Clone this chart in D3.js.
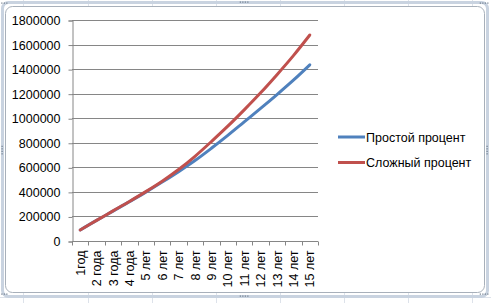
<!DOCTYPE html>
<html>
<head>
<meta charset="utf-8">
<script src="https://cdn.jsdelivr.net/npm/d3@7"></script>
<style>
  body { margin: 0; background: #fff; }
  text { font-family: "Liberation Sans", Arial, sans-serif; fill: #000; }
</style>
</head>
<body>
<div id="chart"></div>
<script>
// categories and values
var years = ["1год", "2 года", "3 года", "4 года", "5 лет", "6 лет", "7 лет", "8 лет",
             "9 лет", "10 лет", "11 лет", "12 лет", "13 лет", "14 лет", "15 лет"];
var simple = [90000, 168000, 243000, 320000, 398000, 480000, 565000, 655000,
              755000, 860000, 970000, 1080000, 1193000, 1310000, 1435000];
var compound = [90000, 168000, 245000, 322000, 402000, 487000, 582000, 690000,
                810000, 935000, 1068000, 1207000, 1355000, 1510000, 1678000];
var yTicks = [0, 200000, 400000, 600000, 800000, 1000000, 1200000, 1400000, 1600000, 1800000];
var seriesNames = ["Простой процент", "Сложный процент"];

var width = 491, height = 303;
var blue = "#4f81bd", red = "#c0504d";

var svg = d3.select("#chart").append("svg")
    .attr("width", width)
    .attr("height", height);

// spreadsheet cells behind the chart
var cellX = [23, 88, 152, 216, 280, 344, 408, 472];
svg.selectAll(".cell")
    .data(cellX)
    .enter().append("line")
    .attr("x1", d => d + 0.5).attr("x2", d => d + 0.5)
    .attr("y1", 0).attr("y2", height)
    .attr("stroke", "#dde2ea");
svg.append("line")
    .attr("x1", 0).attr("x2", width)
    .attr("y1", 297.5).attr("y2", 297.5)
    .attr("stroke", "#dde2ea");

// chart area frame
svg.append("rect")
    .attr("x", 2.5).attr("y", 2.5)
    .attr("width", 485).attr("height", 294)
    .attr("rx", 6)
    .attr("fill", "none")
    .attr("stroke", "#c9d3e0")
    .attr("stroke-width", 3);
svg.append("rect")
    .attr("x", 5.5).attr("y", 6.5)
    .attr("width", 479).attr("height", 286)
    .attr("rx", 7)
    .attr("fill", "#fff")
    .attr("stroke", "#a8b0ba");

// selection handles
var handles = [[244, 2], [244, 296], [2, 150], [487, 150], [3, 3], [484, 3], [3, 294], [484, 294]];
handles.forEach(function(h, i) {
  var vertical = (i === 2 || i === 3);
  for (var k = -1.5; k <= 1.5; k++) {
    svg.append("rect")
      .attr("x", vertical ? h[0] - 0.5 : h[0] + k * 2.5 - 0.5)
      .attr("y", vertical ? h[1] + k * 2.5 - 0.5 : h[1] - 0.5)
      .attr("width", 1.2).attr("height", 1.2)
      .attr("fill", "#6d7a8a");
  }
});

var x = d3.scaleBand().domain(years).range([72, 318]);
var y = d3.scaleLinear().domain([0, 1800000]).range([241, 20]);

// gridlines
svg.append("g")
    .selectAll("line")
    .data(yTicks.slice(1))
    .enter().append("line")
    .attr("x1", 72).attr("x2", 318)
    .attr("y1", d => Math.round(y(d)) + 0.5)
    .attr("y2", d => Math.round(y(d)) + 0.5)
    .attr("stroke", "#868686");

// y axis
var yAxis = svg.append("g")
    .attr("transform", "translate(72.5,0.5)")
    .call(d3.axisLeft(y).tickValues(yTicks).tickSize(4).tickPadding(8).tickFormat(d3.format("d")));
yAxis.select(".domain").attr("stroke", "#868686");
yAxis.selectAll(".tick line").attr("stroke", "#868686");
yAxis.selectAll("text").attr("font-size", "12.5px").style("font-family", "'Liberation Sans', Arial, sans-serif");

// x axis: ticks between categories
var xg = svg.append("g").attr("transform", "translate(0,241.5)");
xg.append("line")
    .attr("x1", 72).attr("x2", 318)
    .attr("stroke", "#868686");
xg.selectAll(".xt")
    .data(years.concat([null]))
    .enter().append("line")
    .attr("x1", (d, i) => Math.round(72 + i * x.step()) + 0.5)
    .attr("x2", (d, i) => Math.round(72 + i * x.step()) + 0.5)
    .attr("y1", 0).attr("y2", 4)
    .attr("stroke", "#868686");
xg.selectAll(".xl")
    .data(years)
    .enter().append("text")
    .attr("transform", d => "translate(" + (x(d) + x.bandwidth() / 2 + 4.5) + ",9) rotate(-90)")
    .attr("text-anchor", "end")
    .attr("font-size", "12.5px")
    .text(d => d);

// lines
var line = d3.line()
    .x((d, i) => x(years[i]) + x.bandwidth() / 2)
    .y(d => y(d))
    .curve(d3.curveCatmullRom.alpha(0.5));

[simple, compound].forEach(function(s, i) {
  svg.append("path")
    .datum(s)
    .attr("d", line)
    .attr("fill", "none")
    .attr("stroke", i === 0 ? blue : red)
    .attr("stroke-width", 3)
    .attr("stroke-linecap", "round");
});

// legend
var legend = svg.append("g");
seriesNames.forEach(function(name, i) {
  var ly = 137 + i * 25.5;
  legend.append("line")
    .attr("x1", 338).attr("x2", 365)
    .attr("y1", ly).attr("y2", ly)
    .attr("stroke", i === 0 ? blue : red)
    .attr("stroke-width", 3);
  legend.append("text")
    .attr("x", 366).attr("y", ly + 4.5)
    .attr("font-size", "12.5px")
    .text(name);
});
</script>
</body>
</html>
